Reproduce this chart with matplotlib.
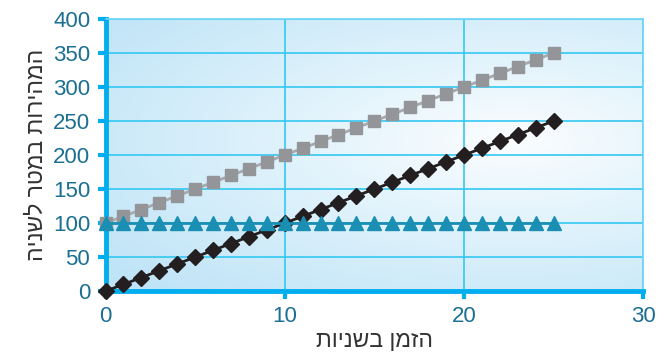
import numpy as np
import matplotlib.pyplot as plt
from matplotlib.colors import LinearSegmentedColormap

plt.rcParams['font.family'] = ['Liberation Sans', 'DejaVu Sans']

# Data
t = [0, 1, 2, 3, 4, 5, 6, 7, 8, 9, 10, 11, 12, 13, 14, 15, 16, 17, 18, 19, 20, 21, 22, 23, 24, 25]
speed_gray = [100, 110, 120, 130, 140, 150, 160, 170, 180, 190, 200, 210, 220, 230, 240, 250,
              260, 270, 280, 290, 300, 310, 320, 330, 340, 350]
speed_black = [0, 10, 20, 30, 40, 50, 60, 70, 80, 90, 100, 110, 120, 130, 140, 150,
               160, 170, 180, 190, 200, 210, 220, 230, 240, 250]
speed_teal = [100] * 26
x_ticks = [0, 10, 20, 30]
y_ticks = [0, 50, 100, 150, 200, 250, 300, 350, 400]
x_label = "הזמן בשניות"
y_label = "המהירות במטר לשניה"


def visual(s):
    # right-to-left text laid out for a left-to-right renderer
    return s[::-1]


fig = plt.figure(figsize=(6.72, 3.59), dpi=100)
ax = fig.add_axes([0.157, 0.189, 0.800, 0.758])

# radial gradient background
ny, nx = 200, 400
yy, xx = np.mgrid[0:1:ny * 1j, 0:1:nx * 1j]
r = np.sqrt(((xx - 0.75) / 0.95) ** 2 + ((yy - 0.55) / 0.75) ** 2)
r = np.clip(r, 0, 1)
cmap = LinearSegmentedColormap.from_list('bg', ['#fbfdff', '#dcf1fb', '#c0e4f7'])
ax.imshow(r, cmap=cmap, extent=[0, 30, 0, 400], aspect='auto', origin='lower',
          zorder=0, vmin=0, vmax=1)

ax.set_xlim(0, 30)
ax.set_ylim(0, 400)
ax.set_xticks(x_ticks)
ax.set_yticks(y_ticks)
ax.grid(True, color='#33c8f2', linewidth=1.2, zorder=1)

ax.plot(t, speed_gray, color='#a7a9ac', linewidth=2, marker='s', markersize=9,
        markerfacecolor='#939598', markeredgecolor='#939598', zorder=3, clip_on=False)
ax.plot(t, speed_black, color='#231f20', linewidth=2, marker='D', markersize=8,
        markerfacecolor='#231f20', markeredgecolor='#231f20', zorder=4, clip_on=False)
ax.plot(t, speed_teal, color='#1a8fb3', linewidth=2, marker='^', markersize=10,
        markerfacecolor='#1a8fb3', markeredgecolor='#1a8fb3', zorder=5, clip_on=False)

for side in ['left', 'bottom']:
    ax.spines[side].set_color('#00aeef')
    ax.spines[side].set_linewidth(3.5)
for side in ['top', 'right']:
    ax.spines[side].set_color('#6fd6f7')
    ax.spines[side].set_linewidth(1.2)

ax.tick_params(axis='both', colors='#00aeef', width=3, length=6, labelsize=16,
               labelcolor='#1b6f93')
ax.tick_params(axis='x', pad=5)
ax.tick_params(axis='y', pad=5)

ax.set_xlabel(visual(x_label), fontsize=16.5, color='#333333', labelpad=1)
ax.set_ylabel(visual(y_label), fontsize=16.5, color='#333333', labelpad=4)

fig.savefig('out.png', dpi=100)
